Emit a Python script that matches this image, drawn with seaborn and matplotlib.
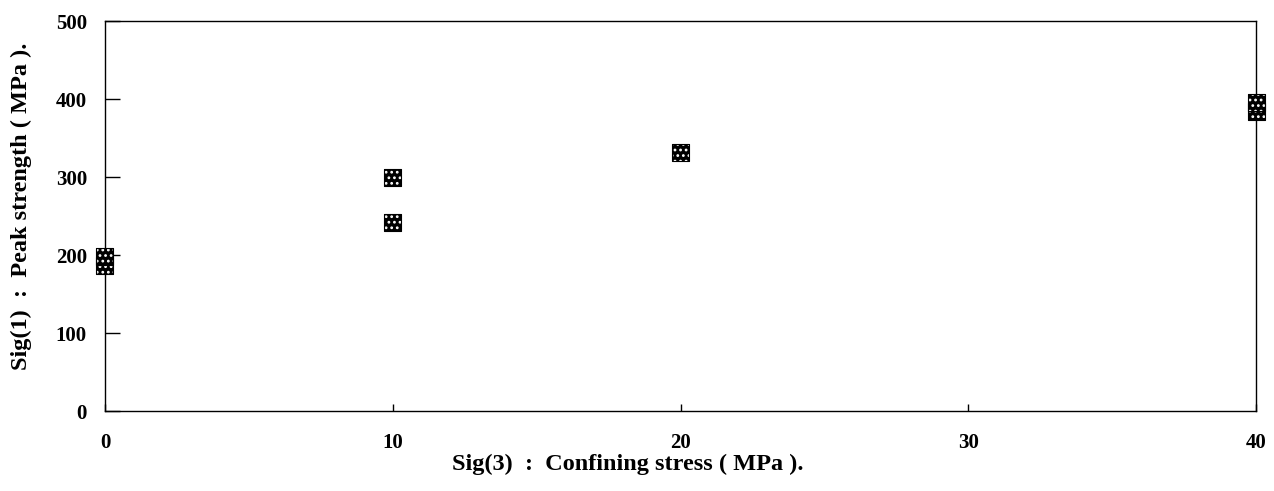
import matplotlib
matplotlib.use("Agg")
import matplotlib.pyplot as plt
import seaborn as sns
import pandas as pd

# Triaxial test results
confining_stress = [0, 0, 10, 10, 20, 40, 40]
peak_strength = [198, 187, 300, 242, 331, 396, 384]

x_ticks = [0, 10, 20, 30, 40]
y_ticks = [0, 100, 200, 300, 400, 500]

df = pd.DataFrame({"sig3": confining_stress, "sig1": peak_strength})

sns.set_theme(style="white")
plt.rcParams["font.family"] = ["Liberation Serif", "DejaVu Serif"]
plt.rcParams["hatch.linewidth"] = 1.2
plt.rcParams["text.color"] = "black"
plt.rcParams["axes.labelcolor"] = "black"
plt.rcParams["xtick.color"] = "black"
plt.rcParams["ytick.color"] = "black"

fig = plt.figure(figsize=(12.74, 4.91), dpi=100)
ax = fig.add_axes([0.0824, 0.1629, 0.9035, 0.7943])

# textured square markers: black fill with a white dot hatch
sns.scatterplot(data=df, x="sig3", y="sig1", ax=ax, marker="s", s=150,
                color="black", edgecolor="white", linewidth=0, hatch="...",
                clip_on=False, zorder=5, legend=False)
sns.scatterplot(data=df, x="sig3", y="sig1", ax=ax, marker="s", s=150,
                facecolor="none", edgecolor="black", linewidth=0.8,
                clip_on=False, zorder=6, legend=False)

ax.set_xlim(0, 40)
ax.set_ylim(0, 500)
ax.set_xticks(x_ticks)
ax.set_yticks(y_ticks)

for side in ["left", "right", "top", "bottom"]:
    ax.spines[side].set_visible(True)
    ax.spines[side].set_color("black")
    ax.spines[side].set_linewidth(1.0)

ax.tick_params(axis="y", direction="in", length=11, width=1.0, color="black",
               left=True, labelsize=15, pad=13, labelcolor="black")
ax.tick_params(axis="x", direction="in", length=5, width=1.0, color="black",
               bottom=True, labelsize=15, pad=16, labelcolor="black")
for lbl in ax.get_xticklabels() + ax.get_yticklabels():
    lbl.set_fontweight("bold")

ax.set_xlabel("Sig(3)  :  Confining stress ( MPa ).", fontsize=17.5,
              fontweight="bold", color="black")
ax.set_ylabel("Sig(1)  :  Peak strength ( MPa ).", fontsize=17.5,
              fontweight="bold", color="black")
ax.xaxis.set_label_coords(0.454, -0.11)
ax.yaxis.set_label_coords(-0.063, 0.526)

fig.savefig("out.png", dpi=100, facecolor="white")
